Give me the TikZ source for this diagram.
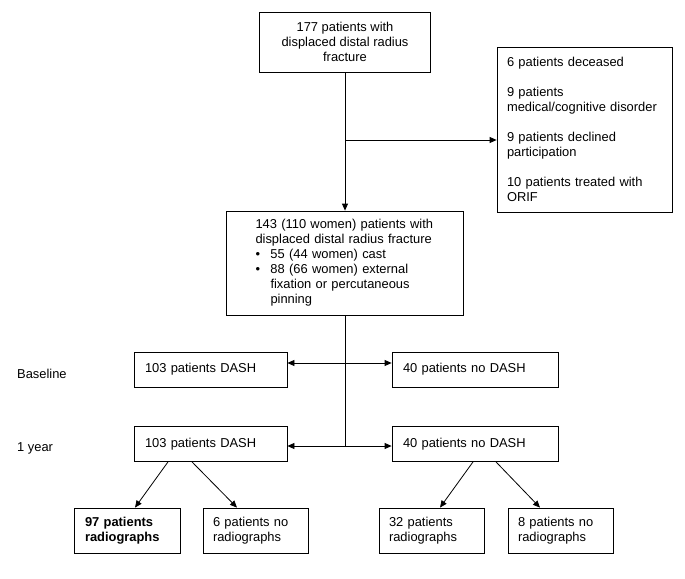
\documentclass[tikz,border=0pt]{standalone}
\usepackage{fontspec}
\setmainfont{Liberation Sans}
\usetikzlibrary{arrows.meta}
\tikzset{
  x=1pt,y=-1pt,
  every node/.style={font=\fontsize{12.9pt}{15pt}\selectfont},
  box/.style={draw,line width=0.8pt,rectangle,inner ysep=0pt},
  lbox/.style={box,align=left},
  arr/.style={line width=0.8pt,-{Stealth[length=7pt,width=6pt,inset=0pt]}},
  dbl/.style={line width=0.8pt,{Stealth[length=7pt,width=6pt,inset=0pt]}-{Stealth[length=7pt,width=6pt,inset=0pt]}},
  plain/.style={line width=0.8pt},
}
\begin{document}
\begin{tikzpicture}
\useasboundingbox (0,0) rectangle (685,578);
\fill[white] (0,0) rectangle (685,578);

\node[box,align=center,minimum width=171pt,minimum height=60pt] (top) at (345,42)
  {177 patients with\\displaced distal radius\\fracture};

\node[lbox,inner xsep=10pt,text width=155pt,minimum height=165pt] (excl) at (584.5,129.5)
  {6 patients deceased\\[15pt]9 patients\\medical/cognitive disorder\\[15pt]9 patients declined\\participation\\[15pt]10 patients treated with\\ORIF};

\node[lbox,inner xsep=29pt,text width=179pt,minimum height=104pt] (main) at (345,263)
  {143 (110 women) patients with\\displaced distal radius fracture\\
   \makebox[15pt][l]{\textbullet}55 (44 women) cast\\
   \makebox[15pt][l]{\textbullet}88 (66 women) external\\
   \hspace*{15pt}fixation or percutaneous\\
   \hspace*{15pt}pinning};

\node[lbox,inner xsep=11pt,text width=131pt,minimum height=35pt] (dash0) at (210.5,369.5) {103 patients DASH};
\node[lbox,inner xsep=11pt,text width=144pt,minimum height=35pt] (nodash0) at (475,369.5) {40 patients no DASH};
\node[lbox,inner xsep=11pt,text width=131pt,minimum height=35pt] (dash1) at (210.5,444) {103 patients DASH};
\node[lbox,inner xsep=11pt,text width=144pt,minimum height=35pt] (nodash1) at (475,444) {40 patients no DASH};

\node[anchor=west,inner sep=0pt] (lbl0) at (17,374) {Baseline};
\node[anchor=west,inner sep=0pt] (lbl1) at (17,448) {1 year};

\node[lbox,inner xsep=11pt,text width=84pt,minimum height=45pt] (r97) at (127,530.5) {\textbf{97 patients}\\\textbf{radiographs}};
\node[lbox,inner xsep=10pt,text width=85pt,minimum height=45pt] (r6) at (255.5,530.5) {6 patients no\\radiographs};
\node[lbox,inner xsep=10pt,text width=85pt,minimum height=45pt] (r32) at (431.5,530.5) {32 patients\\radiographs};
\node[lbox,inner xsep=10pt,text width=85pt,minimum height=45pt] (r8) at (560.5,530.5) {8 patients no\\radiographs};

\coordinate (e) at (345,140);
\coordinate (b0) at (345,363);
\coordinate (b1) at (345,446);

\draw[arr] (top.south) -- (main.north);
\draw[arr] (e) -- (e -| excl.west);
\draw[plain] (main.south) -- (b1);
\draw[dbl] (b0 -| dash0.east) -- (b0 -| nodash0.west);
\draw[dbl] (b1 -| dash1.east) -- (b1 -| nodash1.west);

\draw[arr] ([xshift=-42.5pt]dash1.south) -- ([xshift=8pt]r97.north);
\draw[arr] ([xshift=-18.5pt]dash1.south) -- ([xshift=-18.5pt]r6.north);
\draw[arr] ([xshift=-2pt]nodash1.south) -- ([xshift=8.5pt]r32.north);
\draw[arr] ([xshift=21pt]nodash1.south) -- ([xshift=-20.5pt]r8.north);
\end{tikzpicture}
\end{document}
